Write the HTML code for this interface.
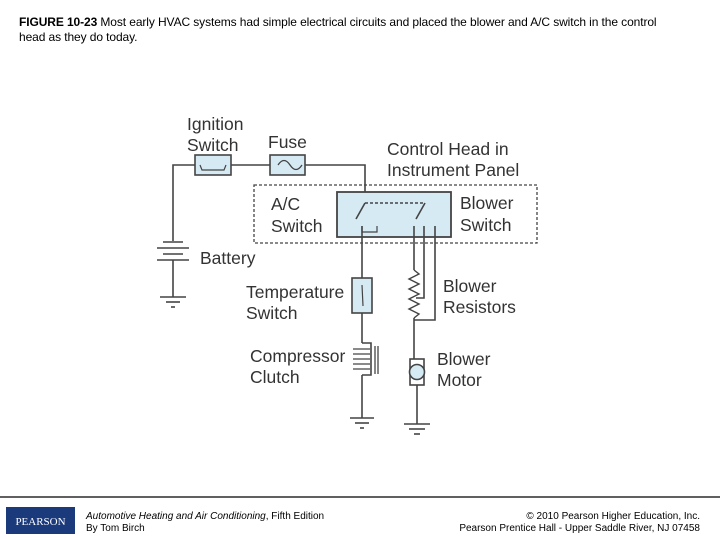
<!DOCTYPE html>
<html><head><meta charset="utf-8"><style>
body{margin:0;width:720px;height:540px;background:#fff;position:relative;overflow:hidden;font-family:"Liberation Sans",sans-serif}
.cap{position:absolute;left:19px;top:15px;font-size:12px;line-height:15px;color:#000;width:700px;letter-spacing:-0.1px;white-space:nowrap}
.lbl{font-family:"Liberation Sans",sans-serif;font-size:17.5px;fill:#333}
.ft{position:absolute;font-size:10px;line-height:12px;color:#000}
</style></head><body>
<div class="cap"><b>FIGURE 10-23</b> Most early HVAC systems had simple electrical circuits and placed the blower and A/C switch in the control<br>head as they do today.</div>
<svg width="720" height="540" style="position:absolute;left:0;top:0" xmlns="http://www.w3.org/2000/svg">
<g stroke="#444" stroke-width="1.6" fill="none">
<polyline points="173,241 173,165 365,165 365,203"/>
<rect x="254" y="185" width="283" height="58" stroke-dasharray="3,2" stroke-width="1.3"/>
<rect x="337" y="192" width="114" height="45" fill="#d6eaf4" stroke-width="1.8"/>
<rect x="195" y="155" width="36" height="20" fill="#d6eaf4"/>
<rect x="270" y="155" width="35" height="20" fill="#d6eaf4"/>
<path d="M278,165 q6,-9 12,0 t12,0" stroke-width="1.3"/>
<polyline points="200,165 202,170 224,170 226,165" stroke-width="1.2"/>
<line x1="365" y1="203" x2="425" y2="203" stroke-dasharray="3,2"/>
<line x1="365" y1="203" x2="356" y2="219"/>
<line x1="425" y1="203" x2="416" y2="219"/>
<polyline points="362,226 362,232 377,232 377,226" stroke-width="1.2"/>
<line x1="163" y1="242" x2="183" y2="242"/>
<line x1="157" y1="248" x2="189" y2="248"/>
<line x1="163" y1="254" x2="183" y2="254"/>
<line x1="157" y1="260" x2="189" y2="260"/>
<line x1="173" y1="260" x2="173" y2="297"/>
<line x1="160" y1="297" x2="186" y2="297"/>
<line x1="166" y1="302" x2="180" y2="302"/>
<line x1="171" y1="307" x2="175" y2="307"/>
<line x1="362" y1="226" x2="362" y2="278"/>
<rect x="352" y="278" width="20" height="35" fill="#d6eaf4"/>
<line x1="362" y1="285" x2="363" y2="306" stroke-width="1.2"/>
<line x1="362" y1="313" x2="362" y2="343"/>
<path d="M362,343 h9 v32 h-9" />
<g stroke-width="1.3"><line x1="353" y1="349" x2="370" y2="349"/><line x1="353" y1="354" x2="370" y2="354"/><line x1="353" y1="359" x2="370" y2="359"/><line x1="353" y1="364" x2="370" y2="364"/><line x1="353" y1="369" x2="370" y2="369"/>
<line x1="375" y1="346" x2="375" y2="374"/><line x1="378" y1="346" x2="378" y2="374"/></g>
<line x1="362" y1="375" x2="362" y2="418"/>
<line x1="350" y1="418" x2="374" y2="418"/><line x1="355" y1="423" x2="369" y2="423"/><line x1="360" y1="428" x2="364" y2="428"/>
<line x1="414" y1="226" x2="414" y2="270"/>
<polyline points="414,270 419,274 409,279 419,284 409,289 419,294 409,299 419,304 409,309 419,314 414,318" stroke-width="1.4"/>
<polyline points="424,226 424,298 416,298"/>
<polyline points="435,226 435,320 414,320"/>
<line x1="414" y1="318" x2="414" y2="362"/>
<rect x="410" y="359" width="14" height="26" fill="#fff"/>
<circle cx="417" cy="372" r="7.5" fill="#d6eaf4"/>
<line x1="417" y1="385" x2="417" y2="424"/>
<line x1="404" y1="424" x2="430" y2="424"/><line x1="409" y1="429" x2="425" y2="429"/><line x1="414" y1="434" x2="420" y2="434"/>
</g>
<g class="lbl">
<text x="187" y="130">Ignition</text><text x="187" y="151">Switch</text>
<text x="268" y="148">Fuse</text>
<text x="387" y="155">Control Head in</text><text x="387" y="176">Instrument Panel</text>
<text x="271" y="210">A/C</text><text x="271" y="232">Switch</text>
<text x="460" y="209">Blower</text><text x="460" y="231">Switch</text>
<text x="200" y="264">Battery</text>
<text x="246" y="298">Temperature</text><text x="246" y="319">Switch</text>
<text x="250" y="362">Compressor</text><text x="250" y="383">Clutch</text>
<text x="443" y="292">Blower</text><text x="443" y="313">Resistors</text>
<text x="437" y="365">Blower</text><text x="437" y="386">Motor</text>
</g>
<line x1="0" y1="497" x2="720" y2="497" stroke="#000" stroke-width="1.2"/>
<rect x="6" y="507" width="69" height="27" fill="#1b3a7c"/>
<text x="40.5" y="525" font-family="Liberation Serif,serif" font-size="11" fill="#fff" text-anchor="middle">PEARSON</text>
</svg>
<div class="ft" style="left:86px;top:511px"><i>Automotive Heating and Air Conditioning</i>, Fifth Edition<br>By Tom Birch</div>
<div class="ft" style="right:20px;top:511px;text-align:right">© 2010 Pearson Higher Education, Inc.<br>Pearson Prentice Hall - Upper Saddle River, NJ 07458</div>
</body></html>
